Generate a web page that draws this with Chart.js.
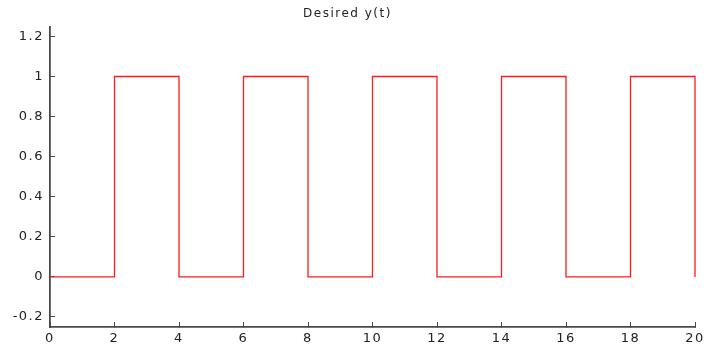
<!DOCTYPE html>
<html>
<head>
<meta charset="utf-8">
<script src="https://cdn.jsdelivr.net/npm/chart.js@4.4.0/dist/chart.umd.min.js"></script>
<style>
  html, body { margin: 0; padding: 0; background: #fff; }
  #wrap { width: 712px; height: 354px; }
</style>
</head>
<body>
<div id="wrap"><canvas id="myChart" width="712" height="354"></canvas></div>
<script>
// desired output y(t): square wave, edges pass through 0.5
var timeValues = [0, 2, 2, 2, 4, 4, 4, 6, 6, 6, 8, 8, 8, 10, 10, 10, 12, 12, 12,
                  14, 14, 14, 16, 16, 16, 18, 18, 18, 20, 20, 20];
var yValues    = [0, 0, 0.5, 1, 1, 0.5, 0, 0, 0.5, 1, 1, 0.5, 0, 0, 0.5, 1, 1, 0.5, 0,
                  0, 0.5, 1, 1, 0.5, 0, 0, 0.5, 1, 1, 0.5, 0];
var xTicks = [0, 2, 4, 6, 8, 10, 12, 14, 16, 18, 20];
var yTicks = [-0.2, 0, 0.2, 0.4, 0.6, 0.8, 1, 1.2];
var yTickLabels = ["-0.2", "0", "0.2", "0.4", "0.6", "0.8", "1", "1.2"];

var points = timeValues.map(function(t, i){ return {x: t, y: yValues[i]}; });

var axisColor = '#4a4a4a';
var textColor = '#222222';

// the original font is drawn wide, so space the letters out a bit
var wideText = {
  id: 'wideText',
  beforeLayout: function(chart){ chart.ctx.letterSpacing = '1.5px'; },
  beforeDraw: function(chart){ chart.ctx.letterSpacing = '1.5px'; }
};

var ctx = document.getElementById("myChart").getContext('2d');
var myChart = new Chart(ctx, {
  type: 'line',
  data: {
    datasets: [{
      data: points,
      borderColor: '#ff1a1a',
      borderWidth: 1.3,
      pointRadius: 0,
      tension: 0,
      fill: false,
      clip: 4
    }]
  },
  options: {
    responsive: false,
    animation: false,
    layout: { padding: { left: 0, right: 17, top: 0, bottom: 0 } },
    plugins: {
      legend: { display: false },
      tooltip: { enabled: false },
      title: {
        display: true,
        text: 'Desired y(t)',
        color: textColor,
        font: { family: 'DejaVu Sans', size: 12, weight: 'normal' },
        padding: { top: 7, bottom: 5 }
      }
    },
    scales: {
      x: {
        type: 'linear',
        min: 0,
        max: 20,
        afterBuildTicks: function(scale){
          scale.ticks = xTicks.map(function(v){ return {value: v}; });
        },
        afterFit: function(scale){
          scale.height = 27;
          scale.paddingLeft = 0;
          scale.paddingRight = 0;
        },
        ticks: {
          color: textColor,
          font: { family: 'DejaVu Sans', size: 13 },
          padding: 9,
          maxRotation: 0,
          autoSkip: false
        },
        grid: { drawOnChartArea: false, tickLength: -5, color: axisColor, lineWidth: 1 },
        border: { display: true, color: axisColor, width: 1.8 }
      },
      y: {
        type: 'linear',
        min: -0.25,
        max: 1.25,
        afterBuildTicks: function(scale){
          scale.ticks = yTicks.map(function(v){ return {value: v}; });
        },
        afterFit: function(scale){
          scale.width = 50;
          scale.paddingTop = 0;
          scale.paddingBottom = 0;
        },
        ticks: {
          color: textColor,
          font: { family: 'DejaVu Sans', size: 13 },
          padding: 11,
          autoSkip: false,
          callback: function(value){
            var i = yTicks.findIndex(function(v){ return Math.abs(v - value) < 1e-9; });
            return i >= 0 ? yTickLabels[i] : '';
          }
        },
        grid: { drawOnChartArea: false, tickLength: -5, color: axisColor, lineWidth: 1 },
        border: { display: true, color: axisColor, width: 1.8 }
      }
    }
  },
  plugins: [wideText]
});
</script>
</body>
</html>
